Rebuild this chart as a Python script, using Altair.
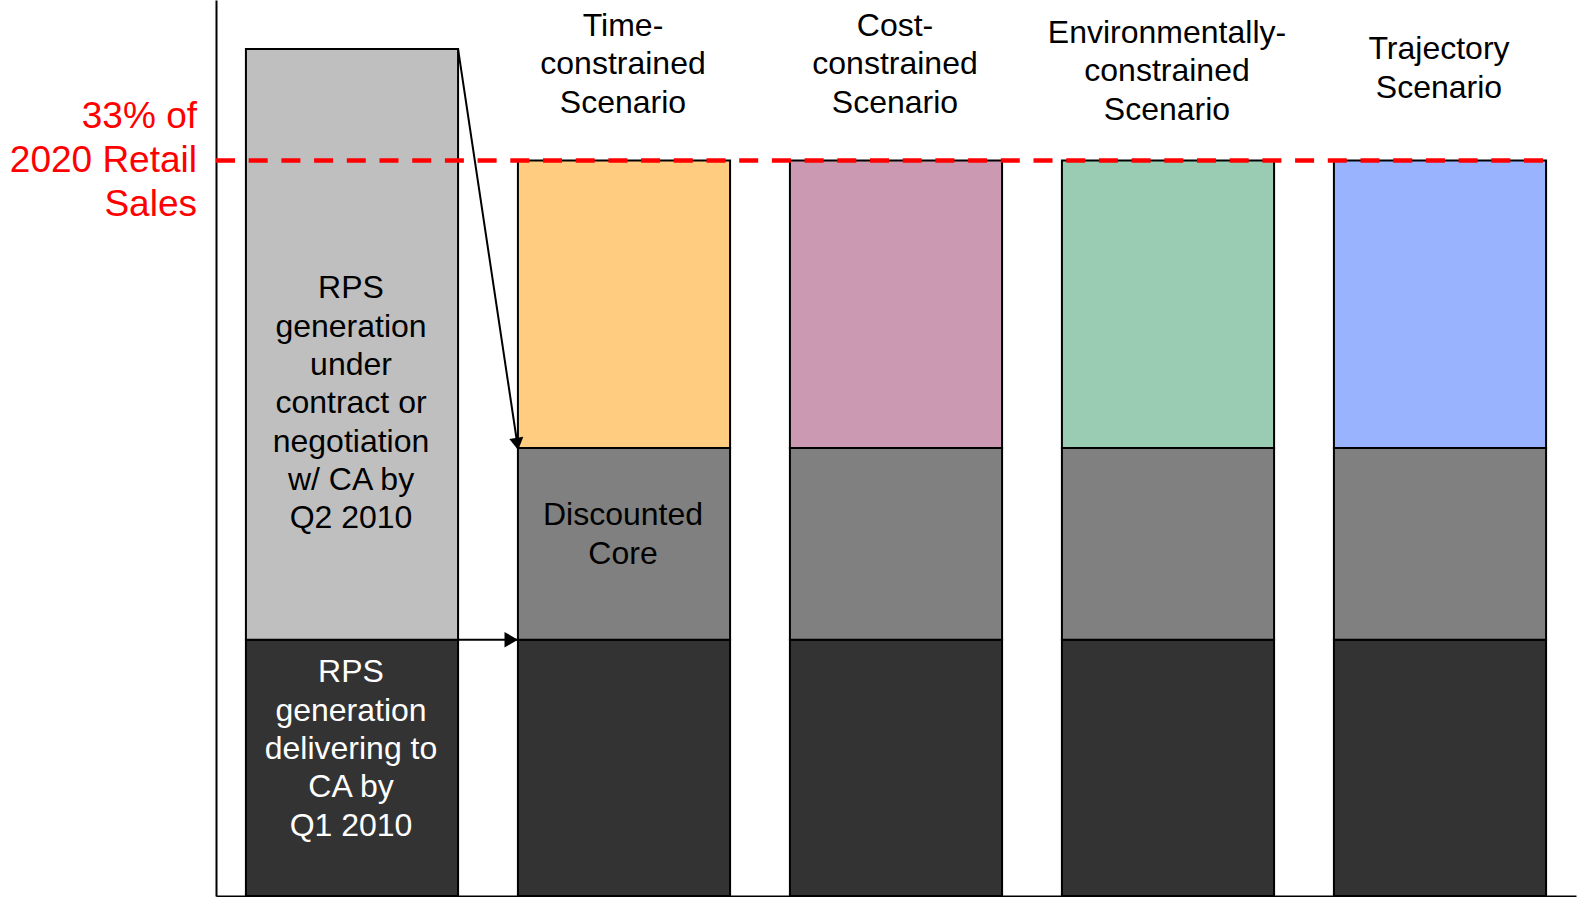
import altair as alt
import pandas as pd

# Bars, left to right
categories = [
    "Contracted",
    "Time-constrained",
    "Cost-constrained",
    "Environmentally-constrained",
    "Trajectory",
]
headers = [
    "",
    "Time-|constrained|Scenario",
    "Cost-|constrained|Scenario",
    "Environmentally-|constrained|Scenario",
    "Trajectory|Scenario",
]
# level of each header's first line
header_y = [0, 39.04, 39.04, 38.72, 37.99]

# Segment sizes, % of 2020 retail sales
delivering_q1_2010 = [11.5, 11.5, 11.5, 11.5, 11.5]
contracted_q2_2010 = [26.5, 0, 0, 0, 0]
discounted_core = [0, 8.6, 8.6, 8.6, 8.6]
scenario_additions = [0, 12.9, 12.9, 12.9, 12.9]
target_pct = 33.0

scenario_colors = ["#BFBFBF", "#FFCC80", "#CC99B3", "#99CCB3", "#99B3FF"]

BAR_HALF = 0.39  # half bar width, in category steps

rows = []
for i, cat in enumerate(categories):
    base = 0.0
    for seg, vals, color in [
        ("delivering", delivering_q1_2010, "#333333"),
        ("contracted", contracted_q2_2010, "#BFBFBF"),
        ("core", discounted_core, "#808080"),
        ("scenario", scenario_additions, scenario_colors[i]),
    ]:
        v = vals[i]
        if v > 0:
            rows.append({"cat": cat, "idx": i, "seg": seg, "y0": base, "y1": base + v, "color": color})
            base += v
segments = pd.DataFrame(rows)
segments["xl"] = segments["idx"] - BAR_HALF
segments["xr"] = segments["idx"] + BAR_HALF

FONT = "Liberation Sans"
xscale = alt.Scale(domain=[-0.5, len(categories) - 0.5], nice=False, zero=False)
yscale = alt.Scale(domain=[0, 40.2], nice=False, zero=True)
xaxis = alt.Axis(labels=False, ticks=False, title=None, domainColor="black", domainWidth=2, grid=False)
yaxis = alt.Axis(labels=False, ticks=False, title=None, domainColor="black", domainWidth=2, grid=False)

bars = alt.Chart(segments).mark_bar(stroke="black", strokeWidth=2).encode(
    x=alt.X("xl:Q", scale=xscale, axis=xaxis),
    x2="xr:Q",
    y=alt.Y("y0:Q", scale=yscale, axis=yaxis),
    y2="y1:Q",
    color=alt.Color("color:N", scale=None),
)

# 33% target line, from the axis to the right edge of the last bar
target = pd.DataFrame({"x0": [-0.5], "x1": [len(categories) - 1 + BAR_HALF], "y": [target_pct]})
target_rule = alt.Chart(target).mark_rule(
    color="#FF0000", strokeWidth=4.5, strokeDash=[19, 13.7]
).encode(x="x0:Q", x2="x1:Q", y="y:Q")
target_label = alt.Chart(
    pd.DataFrame({"x": [-0.5], "y": [target_pct], "t": ["33% of|2020 Retail|Sales"]})
).transform_calculate(lines="split(datum.t, '|')").mark_text(
    font=FONT, fontSize=37, lineHeight=44, color="#FF0000", align="right", baseline="middle", dx=-19, dy=-43.6
).encode(x="x:Q", y="y:Q", text="lines:N")

# Arrows from the contracted bar into the first scenario
contracted_top = delivering_q1_2010[0] + contracted_q2_2010[0]
core_top = delivering_q1_2010[1] + discounted_core[1]
arrows = pd.DataFrame({
    "xa": [0 + BAR_HALF, 0 + BAR_HALF],
    "xb": [1 - BAR_HALF, 1 - BAR_HALF],
    "ya": [contracted_top, delivering_q1_2010[0]],
    "yb": [core_top, delivering_q1_2010[1]],
})
arrow_lines = alt.Chart(arrows).mark_rule(color="black", strokeWidth=2).encode(
    x="xa:Q", x2="xb:Q", y="ya:Q", y2="yb:Q",
)
head_slant = alt.Chart(arrows.iloc[[0]]).mark_point(
    shape="triangle", size=200, filled=True, color="black", opacity=1, angle=171.4, xOffset=-1, yOffset=-6.1
).encode(x="xb:Q", y="yb:Q")
head_flat = alt.Chart(arrows.iloc[[1]]).mark_point(
    shape="triangle-right", size=240, filled=True, color="black", opacity=1, xOffset=-6.7
).encode(x="xb:Q", y="yb:Q")

# Scenario headers
hdr = pd.DataFrame({"idx": list(range(1, len(categories))), "t": headers[1:], "y": header_y[1:]})
header_text = alt.Chart(hdr).transform_calculate(lines="split(datum.t, '|')").mark_text(
    font=FONT, fontSize=32, lineHeight=38.5, color="black", align="center", baseline="middle", dx=-1
).encode(x="idx:Q", y="y:Q", text="lines:N")

# Labels inside the bars (y is the level of the first line)
labels = pd.DataFrame({
    "idx": [0, 0, 1],
    "t": [
        "RPS|generation|under|contract or|negotiation|w/ CA by|Q2 2010",
        "RPS|generation|delivering to|CA by|Q1 2010",
        "Discounted|Core",
    ],
    "y": [27.26, 10.03, 17.08],
    "c": ["black", "white", "black"],
})
label_text = alt.Chart(labels).transform_calculate(lines="split(datum.t, '|')").mark_text(
    font=FONT, fontSize=32, lineHeight=38.3, align="center", baseline="middle", dx=-1
).encode(
    x="idx:Q",
    y="y:Q",
    text="lines:N",
    color=alt.Color("c:N", scale=None),
)

chart = alt.layer(
    bars, arrow_lines, head_slant, head_flat, target_rule, target_label, header_text, label_text
).properties(
    width=1360,
    height=896,
    padding={"left": 216, "top": 0, "right": 13, "bottom": 1},
    autosize=alt.AutoSizeParams(type="none"),
    background="white",
).configure_view(stroke=None)

chart.save("out.html", embed_options={"renderer": "svg", "actions": False})
